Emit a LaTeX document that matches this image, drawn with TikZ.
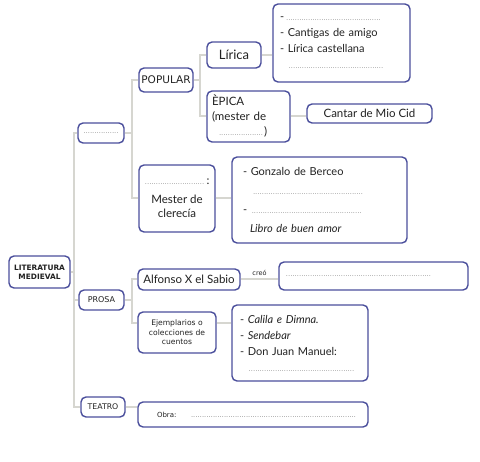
\documentclass[tikz,border=0pt]{standalone}
\usepackage{fontspec}
\setmainfont{Lato}
\newfontfamily\verdana{DejaVu Sans}
\definecolor{azul}{HTML}{4B4F9C}
\definecolor{gris}{HTML}{D6D6D0}
\definecolor{texto}{HTML}{222222}
\newcommand\puntos[1]{\makebox[#1]{\fontsize{5}{5}\selectfont\dotfill}}
\tikzset{
  caja/.style={draw=azul, line width=1.4pt, rounded corners=5pt, fill=white,
    text=texto, align=center, inner sep=0pt},
  izq/.style={align=left, inner ysep=0pt},
  rama/.style={gris, line width=2pt},
}
\begin{document}
\begin{tikzpicture}[x=1pt,y=-1pt]
      \useasboundingbox (0,0) rectangle (480,462);
      \node[caja, minimum width=61pt, minimum height=32pt,
        font=\verdana\bfseries\fontsize{7.4}{9}\selectfont] (literatura) at (39.5,272) {LITERATURA\\MEDIEVAL};
      \node[caja, minimum width=46pt, minimum height=20pt] (hueco) at (101,133) {\puntos{37pt}};
      \node[caja, minimum width=45pt, minimum height=20pt,
        font=\verdana\fontsize{8}{10}\selectfont] (prosa) at (101.5,300) {PROSA};
      \node[caja, minimum width=44pt, minimum height=20pt,
        font=\verdana\fontsize{7.8}{10}\selectfont] (teatro) at (103,407) {TEATRO};
      \node[caja, minimum width=54pt, minimum height=24pt,
        font=\verdana\fontsize{10.5}{12}\selectfont] (popular) at (166,80) {POPULAR};
      \node[caja, minimum width=76pt, minimum height=67pt,
        font=\fontsize{11.5}{14}\selectfont] (mester) at (177,198.5) {\puntos{60pt}\,:\\[5pt]Mester de\\clerecía};
      \node[caja, minimum width=102pt, minimum height=21pt,
        font=\fontsize{11.5}{14}\selectfont] (alfonso) at (189,279.5) {Alfonso X el Sabio};
      \node[caja, minimum width=78pt, minimum height=41pt,
        font=\verdana\fontsize{7.6}{9.5}\selectfont] (ejemplarios) at (177,332.5) {Ejemplarios o\\colecciones de\\cuentos};
      \node[caja, izq, text width=230pt, minimum height=25pt, inner xsep=0pt,
        font=\verdana\fontsize{7}{9}\selectfont] (obra) at (253,414.5) {\hspace*{19pt}Obra:\hspace{14pt}\puntos{166pt}};
      \node[caja, minimum width=54pt, minimum height=26pt,
        font=\fontsize{13}{15}\selectfont] (lirica) at (234,55) {Lírica};
      \node[caja, izq, text width=73pt, inner xsep=5pt, minimum height=51pt,
        font=\fontsize{11.5}{15}\selectfont] (epica) at (248.5,116.5) {ÈPICA\\(mester de\\\hspace*{6pt}\puntos{46pt})};
      \node[caja, izq, text width=123pt, inner xsep=7pt, minimum height=78pt,
        font=\fontsize{11}{16}\selectfont] (listalirica) at (341.5,43) {-\,\puntos{95pt}\\- Cantigas de amigo\\- Lírica castellana\\\hspace*{8pt}\puntos{96pt}};
      \node[caja, minimum width=125pt, minimum height=19pt,
        font=\fontsize{11.5}{14}\selectfont] (cantar) at (369.5,113.5) {Cantar de Mio Cid};
      \node[caja, izq, text width=153pt, inner xsep=11pt, minimum height=86pt,
        font=\fontsize{11}{19}\selectfont] (gonzalo) at (319.5,200) {- Gonzalo de Berceo\\\hspace*{9pt}\puntos{112pt}\\- \puntos{112pt}\\\hspace*{7pt}\textit{Libro de buen amor}};
      \node[caja, izq, text width=189pt, inner xsep=0pt, minimum height=28pt] (creo) at (373.5,276) {\hspace*{6pt}\puntos{147pt}};
      \node[caja, izq, text width=120pt, inner xsep=8pt, minimum height=76pt,
        font=\fontsize{11}{16}\selectfont] (calila) at (300,343) {- \textit{Calila e Dimna.}\\- \textit{Sendebar}\\- Don Juan Manuel:\\\hspace*{8pt}\puntos{107pt}};
      \coordinate (t1) at (74,272);
      \coordinate (t2) at (132,133);
      \coordinate (t3) at (132,300);
      \coordinate (t4) at (200,80);
      \coordinate (ej) at ([yshift=9.5pt]ejemplarios.east);
      \begin{scope}[rama]
        \draw (literatura.east) -- (t1);
        \draw (hueco.west) -| (t1) |- (teatro.west);
        \draw (t1) |- (prosa.west);
        \draw (hueco.east) -- (t2);
        \draw (popular.west) -| (t2) |- (mester.west);
        \draw (prosa.east) -- (t3);
        \draw (alfonso.west) -| (t3) |- ([yshift=9.5pt]ejemplarios.west);
        \draw (popular.east) -- (t4);
        \draw (lirica.west) -| (t4) |- (epica.west);
        \draw (lirica.east) -- (lirica.east -| listalirica.west);
        \draw (epica.east) -- (epica.east -| cantar.west);
        \draw (mester.east) -- (mester.east -| gonzalo.west);
        \draw (ej) -- (ej -| calila.west);
        \draw (alfonso.east) -- (alfonso.east -| creo.west)
          node[midway, above, text=texto, font=\verdana\fontsize{6.5}{8}\selectfont] (lblcreo) {creó};
        \draw (teatro.east) -- (teatro.east -| obra.west);
      \end{scope}
    \end{tikzpicture}
\end{document}
